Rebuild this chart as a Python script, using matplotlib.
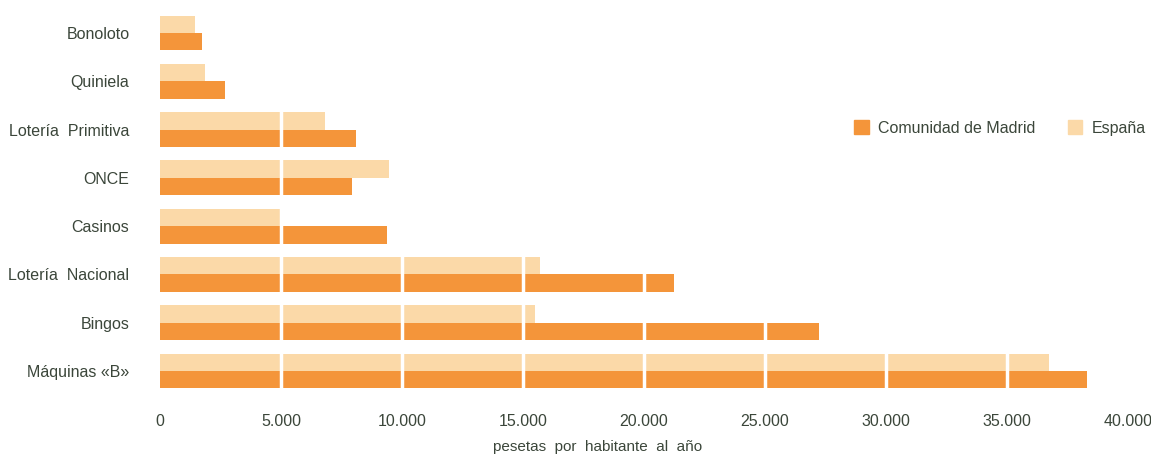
import matplotlib
matplotlib.use("Agg")
import matplotlib.pyplot as plt
from matplotlib.patches import Patch
from matplotlib.ticker import FuncFormatter
import numpy as np

plt.rcParams["font.family"] = ["Liberation Sans", "DejaVu Sans"]

# pesetas por habitante al año
categories = ["Bonoloto", "Quiniela", "Lotería  Primitiva", "ONCE", "Casinos",
              "Lotería  Nacional", "Bingos", "Máquinas «B»"]
madrid = [1750, 2700, 8100, 7950, 9400, 21250, 27250, 38300]
espana = [1450, 1850, 6800, 9450, 4950, 15700, 15500, 36750]
xticks = [0, 5000, 10000, 15000, 20000, 25000, 30000, 35000, 40000]

C_MADRID = "#f4953a"
C_ESPANA = "#fbd9a8"
TXT = "#3b463a"

W, H = 1151, 455
fig = plt.figure(figsize=(W / 100, H / 100), dpi=100)
ax = fig.add_axes([160 / W, 1 - 400 / H, (1128 - 160) / W, 396 / H])

y = np.arange(len(categories))
h = 0.36
ax.barh(y - h / 2, espana, height=h, color=C_ESPANA, zorder=1)
ax.barh(y + h / 2, madrid, height=h, color=C_MADRID, zorder=1)

# white separators every 5.000 over the bars
for xv in xticks[1:]:
    ax.axvline(xv, color="white", lw=2.5, zorder=2)

ax.set_xlim(0, 40000)
ax.set_ylim(7.6, -0.6)
ax.set_yticks(y)
ax.set_yticklabels(categories)
ax.set_xticks(xticks)
ax.xaxis.set_major_formatter(FuncFormatter(lambda v, p: f"{int(v):,}".replace(",", ".")))
ax.tick_params(axis="both", length=0, labelsize=11.5, labelcolor=TXT)
ax.tick_params(axis="x", pad=10)
ax.tick_params(axis="y", pad=22)
for s in ax.spines.values():
    s.set_visible(False)

fig.text(598 / W, 1 - 447 / H, "pesetas  por  habitante  al  año", ha="center",
         va="center", fontsize=11, color=TXT)

handles = [Patch(color=C_MADRID, label="Comunidad de Madrid"),
           Patch(color=C_ESPANA, label="España")]
fig.legend(handles=handles, loc="center", bbox_to_anchor=(1000 / W, 1 - 128 / H),
           ncol=2, frameon=False, fontsize=11.5, handlelength=0.9, handleheight=0.9,
           handletextpad=0.6, columnspacing=2.0, labelcolor=TXT)

fig.savefig("out.png", dpi=100)
